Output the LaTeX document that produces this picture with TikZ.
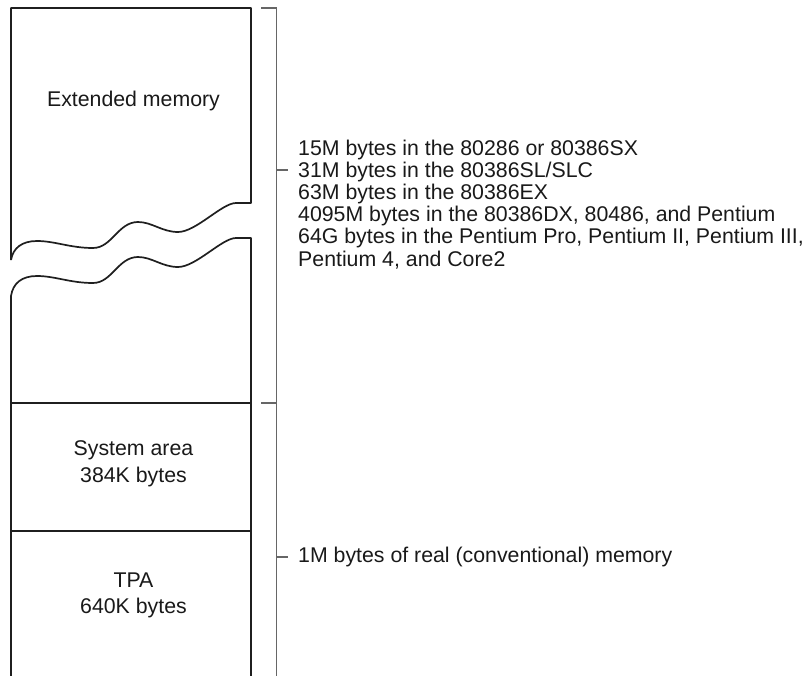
\documentclass[tikz,border=0pt]{standalone}
\usepackage{fontspec}
\setmainfont{Liberation Sans}
\usetikzlibrary{positioning}

\begin{document}
\begin{tikzpicture}[
    x=1pt, y=-1pt,
    mem/.style={line width=1.7pt, draw=black!88, line join=round},
    brk/.style={line width=1.1pt, draw=black!60},
    area/.style={inner sep=0pt, align=center, text=black!90,
                 font=\fontsize{21.3}{26.5}\selectfont},
    note/.style={inner sep=0pt, align=left, text=black!90,
                 font=\fontsize{21.3}{22.2}\selectfont},
]
    \useasboundingbox (0,0) rectangle (810,676);

    \draw[mem] (11,260) -- (11,8) -- (251,8) -- (251,203) -- (236,203)
        .. controls (222,203) and (196,232) .. (178,232)
        .. controls (162,232) and (152,222) .. (138,222)
        .. controls (118,222) and (112,248) .. (93,248)
        .. controls (70,248) and (55,241) .. (37,241)
        .. controls (22,241) and (13,248) .. (11,260);
    \draw[mem] (11,676) -- (11,296)
        .. controls (13,283) and (22,276) .. (37,276)
        .. controls (55,276) and (70,283) .. (93,283)
        .. controls (112,283) and (118,257) .. (138,257)
        .. controls (152,257) and (162,267) .. (178,267)
        .. controls (196,267) and (222,238) .. (236,238)
        -- (251,238) -- (251,676);
    \draw[mem] (11,403) -- (251,403);
    \draw[mem] (11,531) -- (251,531);

    \node[area] (ext) at (133.5,101) {Extended memory};
    \node[area] (sys) at (133.5,464) {System area\\384K bytes};
    \node[area] (tpa) at (133.5,595.5) {TPA\\640K bytes};

    \node[note, anchor=north west] (cpus) at (298,139.5) {15M bytes in the 80286 or 80386SX\\
        31M bytes in the 80386SL/SLC\\
        63M bytes in the 80386EX\\
        4095M bytes in the 80386DX, 80486, and Pentium\\
        64G bytes in the Pentium Pro, Pentium II, Pentium III,\\
        Pentium 4, and Core2};
    \node[note, anchor=west] (real) at (298,557) {1M bytes of real (conventional) memory};

    \coordinate (top) at (276.5,8);
    \coordinate (mid) at (276.5,403);
    \coordinate (bot) at (276.5,676);
    \draw[brk] ([xshift=-15.5pt]top) -- (top) -- (bot);
    \draw[brk] ([xshift=-15.5pt]mid) -- (mid);
    \draw[brk] (276.5,170) -- (288,170);
    \draw[brk] (276.5,557) -- (288,557);
\end{tikzpicture}
\end{document}
